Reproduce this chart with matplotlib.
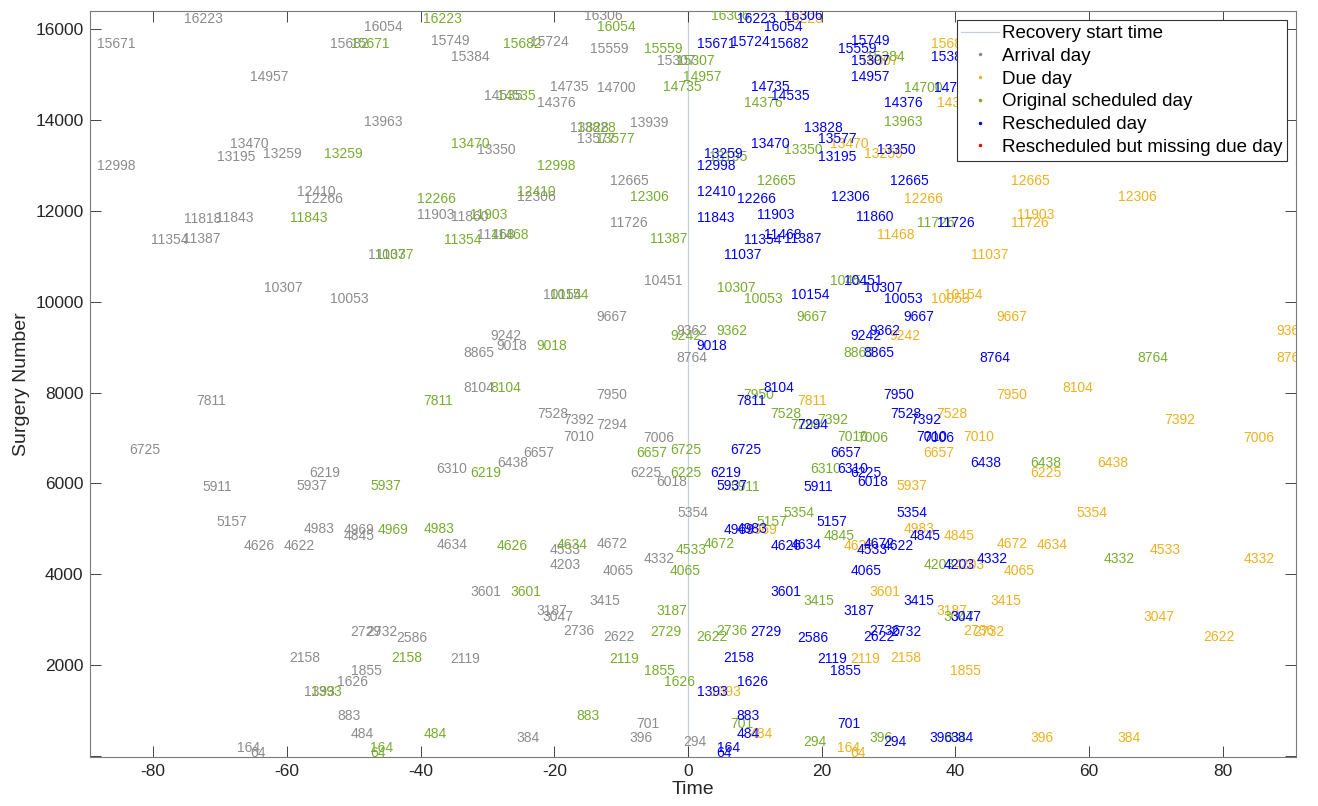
import matplotlib.pyplot as plt

# surgery number -> day relative to recovery start (label is drawn at (day, surgery number))
arrival_ids = [16306, 16223, 16054, 15749, 15724, 15682, 15671, 15559, 15384, 15307,
               14957, 14735, 14700, 14535, 14376, 13963, 13939, 13828, 13577, 13470,
               13350, 13259, 13195, 12998, 12665, 12410, 12306, 12266, 11903, 11860,
               11843, 11818, 11726, 11468, 11387, 11354, 11037, 10451, 10307, 10154,
               10053, 9667, 9362, 9242, 9018, 8865, 8764, 8104, 7950, 7811,
               7528, 7392, 7294, 7010, 7006, 6725, 6657, 6438, 6310, 6225,
               6219, 6018, 5937, 5911, 5354, 5157, 4983, 4969, 4845, 4672,
               4634, 4626, 4622, 4533, 4332, 4203, 4065, 3601, 3415, 3187,
               3047, 2736, 2732, 2729, 2622, 2586, 2158, 2119, 1855, 1626,
               1393, 883, 701, 484, 396, 384, 294, 164, 64]
arrival_days = [-15.6, -75.4, -48.5, -38.5, -23.6, -53.5, -88.4, -14.7, -35.5, -4.7,
                -65.5, -20.6, -13.6, -30.5, -22.6, -48.5, -8.6, -17.6, -16.6, -68.5,
                -31.5, -63.6, -70.5, -88.4, -11.6, -58.5, -25.5, -57.4, -40.6, -35.5,
                -70.6, -75.4, -11.6, -31.5, -75.5, -80.4, -47.9, -6.6, -63.5, -21.7,
                -53.5, -13.7, -1.7, -29.6, -28.6, -33.6, -1.7, -33.6, -13.7, -73.5,
                -22.6, -18.7, -13.7, -18.7, -6.7, -83.6, -24.6, -28.6, -37.6, -8.7,
                -56.6, -4.7, -58.6, -72.6, -1.6, -70.5, -57.5, -51.5, -51.5, -13.7,
                -37.6, -66.5, -60.5, -20.7, -6.7, -20.7, -12.7, -32.6, -14.7, -22.6,
                -21.7, -18.7, -48.2, -50.5, -12.7, -43.6, -59.6, -35.6, -50.4, -52.5,
                -57.5, -52.5, -7.7, -50.5, -8.7, -25.6, -0.7, -67.5, -65.5]

due_ids = [16223, 15682, 15307, 14376, 13470, 13259, 12665, 12306, 12266, 11903,
           11726, 11468, 11037, 10154, 10053, 9667, 9362, 9242, 8764, 8104,
           7950, 7811, 7528, 7392, 7010, 7006, 6657, 6438, 6225, 5937,
           5354, 4983, 4969, 4845, 4672, 4634, 4626, 4533, 4332, 4203,
           4065, 3601, 3415, 3187, 3047, 2736, 2732, 2622, 2158, 2119,
           1855, 1393, 484, 396, 384, 164, 64]
due_days = [14.4, 36.3, 25.7, 37.3, 21.3, 26.3, 48.3, 64.3, 32.3, 49.3,
            48.3, 28.3, 42.3, 38.3, 36.3, 46.2, 88.0, 30.2, 88.0, 56.1,
            46.2, 16.3, 37.2, 71.2, 41.2, 83.1, 35.2, 61.2, 51.2, 31.2,
            58.1, 32.2, 8.8, 38.2, 46.2, 52.2, 23.3, 69.1, 83.1, 39.7,
            47.2, 27.2, 45.2, 37.2, 68.2, 41.2, 42.7, 77.1, 30.2, 24.3,
            39.2, 3.3, 9.3, 51.2, 64.2, 22.3, 24.3]

original_ids = [16306, 16223, 16054, 15682, 15671, 15559, 15384, 15307, 14957, 14735,
                14700, 14535, 14376, 13963, 13828, 13577, 13470, 13350, 13259, 13195,
                12998, 12665, 12410, 12306, 12266, 11903, 11843, 11726, 11468, 11387,
                11354, 11037, 10451, 10307, 10154, 10053, 9667, 9362, 9242, 9018,
                8865, 8764, 8104, 7950, 7811, 7528, 7392, 7294, 7010, 7006,
                6725, 6657, 6438, 6310, 6225, 6219, 5937, 5911, 5354, 5157,
                4983, 4969, 4845, 4672, 4634, 4626, 4533, 4332, 4203, 4065,
                3601, 3415, 3187, 3047, 2736, 2729, 2622, 2158, 2119, 1855,
                1626, 1393, 883, 701, 484, 396, 384, 294, 164, 64]
original_days = [3.4, -39.6, -13.6, -27.6, -50.4, -6.6, 26.6, -1.8, -0.8, -3.7,
                 32.3, -28.5, 8.4, 29.3, -16.6, -13.7, -35.5, 14.4, -54.5, 3.1,
                 -22.6, 10.4, -25.5, -8.6, -40.6, -32.6, -59.5, 34.3, -29.5, -5.6,
                 -36.5, -46.7, 21.3, 4.3, -20.6, 8.4, 16.3, 4.3, -2.7, -22.6,
                 23.3, 67.2, -29.6, 8.3, -39.6, 12.3, 19.4, 15.3, 22.3, 25.3,
                 -2.7, -7.7, 51.2, 18.3, -2.7, -32.6, -47.5, 6.3, 14.3, 10.3,
                 -39.6, -46.5, 20.3, 2.3, -19.7, -28.6, -1.8, 62.2, 35.2, -2.7,
                 -26.6, 17.3, -4.7, 38.2, 4.3, -5.7, 1.3, -44.4, -11.7, -6.6,
                 -3.6, -56.4, -16.7, 6.3, -39.6, 27.2, 38.2, 17.3, -47.5, -47.5]

resched_ids = [16306, 16223, 16054, 15749, 15724, 15682, 15671, 15559, 15384, 15307,
               14957, 14735, 14700, 14535, 14376, 13828, 13577, 13470, 13350, 13259,
               13195, 12998, 12665, 12410, 12306, 12266, 11903, 11860, 11843, 11726,
               11468, 11387, 11354, 11037, 10451, 10307, 10154, 10053, 9667, 9362,
               9242, 9018, 8865, 8764, 8104, 7950, 7811, 7528, 7392, 7294,
               7010, 7006, 6725, 6657, 6438, 6310, 6225, 6219, 6018, 5937,
               5911, 5354, 5157, 4983, 4969, 4845, 4672, 4634, 4626, 4622,
               4533, 4332, 4203, 4065, 3601, 3415, 3187, 3047, 2736, 2732,
               2729, 2622, 2586, 2158, 2119, 1855, 1626, 1393, 883, 701,
               484, 396, 384, 294, 164, 64]
resched_days = [14.4, 7.3, 11.4, 24.4, 6.4, 12.3, 1.4, 22.4, 36.3, 24.4,
                24.4, 9.4, 36.8, 12.4, 29.3, 17.4, 19.4, 9.4, 28.3, 2.4,
                19.4, 1.4, 30.3, 1.4, 21.4, 7.4, 10.4, 25.2, 1.4, 37.3,
                11.4, 14.4, 8.4, 5.4, 23.4, 26.3, 15.4, 29.3, 32.2, 27.2,
                24.3, 1.3, 26.3, 43.6, 11.3, 29.2, 7.3, 30.2, 33.2, 16.3,
                34.2, 35.2, 6.3, 21.3, 42.2, 22.3, 24.3, 3.3, 25.3, 4.3,
                17.3, 31.2, 19.3, 7.3, 5.3, 33.2, 26.3, 15.3, 12.3, 29.2,
                25.3, 43.2, 38.2, 24.3, 12.3, 32.2, 23.3, 39.2, 27.2, 30.2,
                9.3, 26.3, 16.3, 5.3, 19.3, 21.3, 7.3, 1.3, 7.3, 22.3,
                7.3, 36.2, 39.2, 29.2, 4.3, 4.3]

missing_ids = []
missing_days = []

GRAY = '#8c8c8c'
ORANGE = '#EDB120'
GREEN = '#77AC30'
BLUE = '#0000FF'
RED = '#FF0000'

plt.rcParams['font.family'] = ['Liberation Sans', 'DejaVu Sans']
plt.rcParams['axes.unicode_minus'] = False

fig = plt.figure(figsize=(13.18, 8.06), dpi=100)
ax = fig.add_axes([0.0686, 0.0605, 0.9148, 0.9258])

ax.axvline(0, color='#c3d0dc', lw=0.9, zorder=1, label='Recovery start time')

groups = [
    (arrival_ids, arrival_days, GRAY, 'Arrival day'),
    (due_ids, due_days, ORANGE, 'Due day'),
    (original_ids, original_days, GREEN, 'Original scheduled day'),
    (resched_ids, resched_days, BLUE, 'Rescheduled day'),
    (missing_ids, missing_days, RED, 'Rescheduled but missing due day'),
]
for k, (ids, days, color, name) in enumerate(groups):
    for sid, day in zip(ids, days):
        ax.text(day, sid, str(sid), color=color, fontsize=10, ha='left', va='center',
                zorder=2 + k, clip_on=True)
    # legend proxy: a small dot
    ax.plot([], [], '.', color=color, markersize=3, label=name)

ax.set_xlim(-89.4, 91.0)
ax.set_ylim(-36, 16406)
ax.set_xticks(range(-80, 81, 20))
ax.set_yticks(range(0, 16001, 2000))
ax.set_yticklabels([''] + [str(v) for v in range(2000, 16001, 2000)])
ax.tick_params(direction='in', length=8, width=0.6, top=True, right=True,
               labelsize=12.5, colors='#262626', pad=5)
for s in ax.spines.values():
    s.set_color('#7a7a7a')
    s.set_linewidth(0.8)
ax.set_xlabel('Time', fontsize=14, color='#262626', labelpad=1)
ax.set_ylabel('Surgery Number', fontsize=14, color='#262626', labelpad=4)

leg = ax.legend(loc='upper right', fontsize=13.5, frameon=True, fancybox=False,
                framealpha=1, edgecolor='#333333', handlelength=2.0,
                handletextpad=0.15, labelspacing=0.3, borderpad=0.25,
                borderaxespad=0.5)
leg.get_frame().set_linewidth(0.8)
leg.set_zorder(20)

fig.savefig('out.png', dpi=100)
